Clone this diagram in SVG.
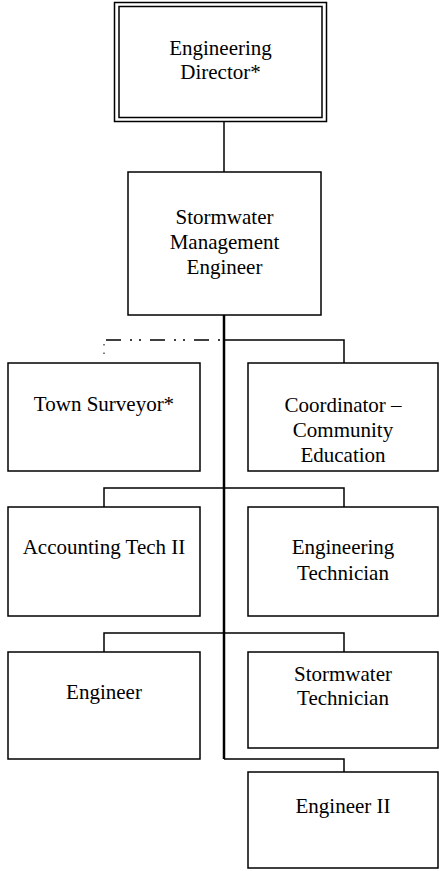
<svg xmlns="http://www.w3.org/2000/svg" width="442" height="871" viewBox="0 0 442 871">
  <style>
    .box { fill: #fff; stroke: #000; stroke-width: 1.5; }
    .line { fill: none; stroke: #000; stroke-width: 1.5; }
    .trunk { fill: none; stroke: #000; stroke-width: 2.5; }
    .dash { fill: none; stroke: #000; stroke-width: 1.5; stroke-dasharray: 15 9 2 7 2 9; }
    .dots { fill: none; stroke: #000; stroke-width: 1; stroke-dasharray: 1.5 7; }
    .lbl { font-size: 21px; fill: #000; text-anchor: middle; }
  </style>

  <!-- reporting lines -->
  <g id="connectors">
    <path class="line" d="M224 122 V172"/>
    <path class="trunk" d="M224 315 V759"/>
    <path class="line" d="M224 340 H344 V363"/>
    <path class="dash" d="M106 340 H220"/>
    <path class="dots" d="M104 344 V358"/>
    <path class="line" d="M104 507 V488 H344 V507"/>
    <path class="line" d="M104 652 V633 H344 V652"/>
    <path class="line" d="M224 759 H344 V772"/>
  </g>

  <g id="engineering-director">
    <rect class="box" x="114.5" y="2.5" width="212" height="119"/>
    <rect class="box" x="119" y="6.5" width="203" height="111"/>
    <text class="lbl" font-family="Liberation Serif" x="220.5" y="55">Engineering</text>
    <text class="lbl" font-family="Liberation Serif" x="220.5" y="79">Director*</text>
  </g>

  <g id="stormwater-management-engineer">
    <rect class="box" x="128" y="172" width="193" height="143"/>
    <text class="lbl" font-family="Liberation Serif" x="224.5" y="224">Stormwater</text>
    <text class="lbl" font-family="Liberation Serif" x="224.5" y="249">Management</text>
    <text class="lbl" font-family="Liberation Serif" x="224.5" y="274">Engineer</text>
  </g>

  <g id="town-surveyor">
    <rect class="box" x="8" y="363" width="192" height="108"/>
    <text class="lbl" font-family="Liberation Serif" x="104" y="411">Town Surveyor*</text>
  </g>

  <g id="coordinator-community-education">
    <rect class="box" x="248" y="363" width="190" height="108"/>
    <text class="lbl" font-family="Liberation Serif" x="343" y="412">Coordinator –</text>
    <text class="lbl" font-family="Liberation Serif" x="343" y="437">Community</text>
    <text class="lbl" font-family="Liberation Serif" x="343" y="462">Education</text>
  </g>

  <g id="accounting-tech-ii">
    <rect class="box" x="8" y="507" width="192" height="109"/>
    <text class="lbl" font-family="Liberation Serif" x="104" y="554">Accounting Tech II</text>
  </g>

  <g id="engineering-technician">
    <rect class="box" x="248" y="507" width="190" height="109"/>
    <text class="lbl" font-family="Liberation Serif" x="343" y="554">Engineering</text>
    <text class="lbl" font-family="Liberation Serif" x="343" y="580">Technician</text>
  </g>

  <g id="engineer">
    <rect class="box" x="8" y="652" width="192" height="107"/>
    <text class="lbl" font-family="Liberation Serif" x="104" y="699">Engineer</text>
  </g>

  <g id="stormwater-technician">
    <rect class="box" x="248" y="652" width="190" height="96"/>
    <text class="lbl" font-family="Liberation Serif" x="343" y="681">Stormwater</text>
    <text class="lbl" font-family="Liberation Serif" x="343" y="705">Technician</text>
  </g>

  <g id="engineer-ii">
    <rect class="box" x="248" y="772" width="190" height="96"/>
    <text class="lbl" font-family="Liberation Serif" x="343" y="813">Engineer II</text>
  </g>
</svg>
